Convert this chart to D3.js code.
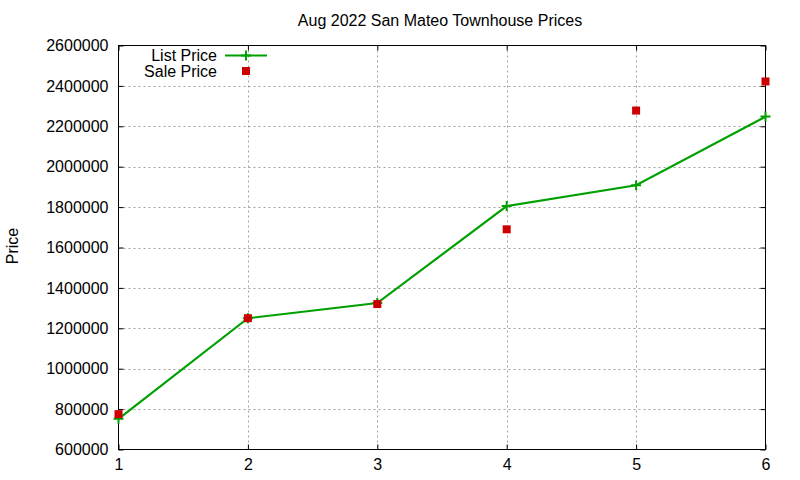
<!DOCTYPE html>
<html><head><meta charset="utf-8">
<script src="https://cdn.jsdelivr.net/npm/d3@7/dist/d3.min.js"></script>
<style>body{margin:0;background:#fff}svg{display:block}text{font-family:"Liberation Sans",Arial,sans-serif}</style>
</head><body><svg id="c" width="800" height="480"></svg>
<script>
const xValues = [1, 2, 3, 4, 5, 6];
const listPrice = [752000, 1250000, 1325000, 1805000, 1908000, 2248000];
const salePrice = [775000, 1250000, 1320000, 1690000, 2278000, 2422000];
const yTicks = [600000, 800000, 1000000, 1200000, 1400000, 1600000, 1800000, 2000000, 2200000, 2400000, 2600000];
const xTicks = [1, 2, 3, 4, 5, 6];
const title = "Aug 2022 San Mateo Townhouse Prices";
const seriesNames = ["List Price", "Sale Price"];

const svg = d3.select("#c");
const L = 118.5, R = 765.5, T = 45.5, B = 449.5;
const x = d3.scaleLinear().domain([1, 6]).range([L, R]);
const y = d3.scaleLinear().domain([600000, 2600000]).range([B, T]);
const green = "#00a000", red = "#cc0000";

// grid
const g = svg.append("g");
g.selectAll(".gy").data(yTicks.slice(1, -1)).join("line")
  .attr("x1", L).attr("x2", R).attr("y1", d => Math.round(y(d)) + 0.5).attr("y2", d => Math.round(y(d)) + 0.5)
  .attr("stroke", "#a0a0a0").attr("stroke-width", 1).attr("stroke-dasharray", "2,3");
g.selectAll(".gx").data(xTicks.slice(1, -1)).join("line")
  .attr("y1", T).attr("y2", B).attr("x1", d => Math.round(x(d)) + 0.5).attr("x2", d => Math.round(x(d)) + 0.5)
  .attr("stroke", "#a0a0a0").attr("stroke-width", 1).attr("stroke-dasharray", "2,3");

// axes
const yAxisL = d3.axisLeft(y).tickValues(yTicks).tickSize(-5).tickPadding(10).tickFormat(d3.format("d"));
const yAxisR = d3.axisRight(y).tickValues(yTicks).tickSize(-5).tickFormat("");
const xAxisB = d3.axisBottom(x).tickValues(xTicks).tickSize(-5).tickPadding(9).tickFormat(d3.format("d"));
const xAxisT = d3.axisTop(x).tickValues(xTicks).tickSize(-5).tickFormat("");
function style(sel) {
  sel.select(".domain").remove();
  sel.selectAll("line").attr("stroke", "#000").attr("stroke-width", 1);
  sel.selectAll("text").attr("font-size", 16).attr("fill", "#000").attr("font-family", "Liberation Sans, Arial, sans-serif");
}
svg.append("g").attr("transform", `translate(${L},0)`).call(yAxisL).call(style);
svg.append("g").attr("transform", `translate(${R},0)`).call(yAxisR).call(style);
svg.append("g").attr("transform", `translate(0,${B})`).call(xAxisB).call(style);
svg.append("g").attr("transform", `translate(0,${T})`).call(xAxisT).call(style);
svg.append("rect").attr("x", L).attr("y", T).attr("width", R - L).attr("height", B - T)
  .attr("fill", "none").attr("stroke", "#000").attr("stroke-width", 1);

// list price line
const pts = xValues.map((d, i) => [d, listPrice[i]]);
svg.append("path").datum(pts)
  .attr("d", d3.line().x(d => x(d[0])).y(d => y(d[1])))
  .attr("fill", "none").attr("stroke", green).attr("stroke-width", 2.2);
const plus = (sel, cx, cy) => {
  sel.append("path").attr("d", `M${cx - 5},${cy}H${cx + 5}M${cx},${cy - 5}V${cy + 5}`)
    .attr("stroke", green).attr("stroke-width", 2);
};
pts.forEach(d => plus(svg, x(d[0]), y(d[1])));

// sale price squares
svg.selectAll(".sq").data(xValues.map((d, i) => [d, salePrice[i]])).join("rect")
  .attr("x", d => x(d[0]) - 4).attr("y", d => y(d[1]) - 4)
  .attr("width", 8).attr("height", 8).attr("fill", red);

// legend
const lg = svg.append("g");
lg.append("text").attr("x", 217).attr("y", 61).attr("text-anchor", "end").attr("font-size", 16).text(seriesNames[0]);
lg.append("text").attr("x", 217).attr("y", 77).attr("text-anchor", "end").attr("font-size", 16).text(seriesNames[1]);
lg.append("line").attr("x1", 225).attr("x2", 267).attr("y1", 55.5).attr("y2", 55.5).attr("stroke", green).attr("stroke-width", 2.2);
plus(lg, 246, 55.5);
lg.append("rect").attr("x", 242).attr("y", 67).attr("width", 8).attr("height", 8).attr("fill", red);

// title
svg.append("text").attr("x", 440).attr("y", 26).attr("text-anchor", "middle").attr("font-size", 16).text(title);
// y label
svg.append("text").attr("transform", "translate(18,246) rotate(-90)").attr("text-anchor", "middle").attr("font-size", 16).text("Price");
</script></body></html>
